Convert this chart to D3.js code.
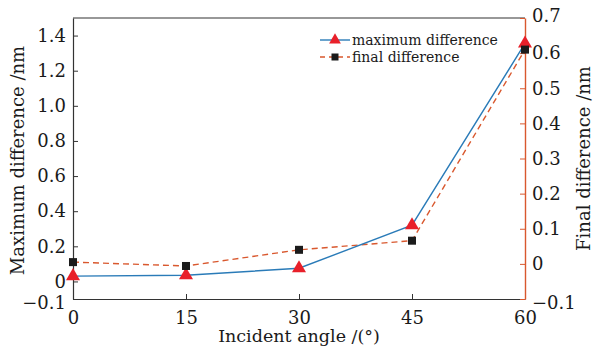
<!DOCTYPE html>
<html>
<head>
<meta charset="utf-8">
<script src="https://cdn.jsdelivr.net/npm/d3@7"></script>
<style>
  body { margin: 0; background: #fff; }
  svg { display: block; font-family: "DejaVu Serif", "Liberation Serif", serif; }
</style>
</head>
<body>
<svg id="chart"></svg>
<script>
// data
var angles = [0, 15, 30, 45, 60];
var maxDiff = [0.03, 0.035, 0.075, 0.32, 1.355];
var finalDiff = [0.005, -0.006, 0.04, 0.066, 0.61];
var leftTicks = [-0.1, 0, 0.2, 0.4, 0.6, 0.8, 1.0, 1.2, 1.4];
var rightTicks = [-0.1, 0, 0.1, 0.2, 0.3, 0.4, 0.5, 0.6, 0.7];
var xTicks = [0, 15, 30, 45, 60];

var W = 594, H = 346;
var margin = {top: 18, right: 69, bottom: 47, left: 73};
var width = W - margin.left - margin.right,
    height = H - margin.top - margin.bottom;

var blue = "#2a7bb8", orange = "#d9582e", red = "#e8202a", axisCol = "#333", txt = "#1a1a1a";

var svg = d3.select("#chart").attr("width", W).attr("height", H);
var g = svg.append("g").attr("transform", "translate(" + margin.left + "," + margin.top + ")");

var x = d3.scaleLinear().domain([0, 60]).range([0, width]);
var yL = d3.scaleLinear().domain([-0.1, 1.5]).range([height, 0]);
var yR = d3.scaleLinear().domain([-0.1, 0.7]).range([height, 0]);

// top border
g.append("line").attr("x1", 0).attr("x2", width).attr("y1", 0).attr("y2", 0)
  .attr("stroke", axisCol).attr("stroke-width", 1.2);

function fmtL(d) { return d === 0 ? "0" : (d === -0.1 ? "\u22120.1" : d.toFixed(1)); }

var xa = g.append("g").attr("transform", "translate(0," + height + ")")
  .call(d3.axisBottom(x).tickValues(xTicks).tickSizeInner(-5).tickSizeOuter(0).tickPadding(12));
var la = g.append("g")
  .call(d3.axisLeft(yL).tickValues(leftTicks).tickFormat(fmtL).tickSizeInner(-5).tickSizeOuter(0).tickPadding(7));
var ra = g.append("g").attr("transform", "translate(" + width + ",0)")
  .call(d3.axisRight(yR).tickValues(rightTicks).tickFormat(fmtL).tickSizeInner(-5).tickSizeOuter(0).tickPadding(7));

[xa, la].forEach(function(a) {
  a.select(".domain").attr("stroke", axisCol).attr("stroke-width", 1.2);
  a.selectAll(".tick line").attr("stroke", axisCol);
});
ra.select(".domain").attr("stroke", orange).attr("stroke-width", 1.4);
ra.selectAll(".tick line").attr("stroke", orange);
g.selectAll(".tick text").attr("font-size", 18).attr("fill", txt)
  .attr("font-family", "DejaVu Serif, serif");
// drop the lowest left/right label a touch like the original
la.selectAll(".tick text").filter(function(d) { return d === -0.1; }).attr("dy", "0.55em");
ra.selectAll(".tick text").filter(function(d) { return d === -0.1; }).attr("dy", "0.5em");
ra.selectAll(".tick text").filter(function(d) { return d === 0.7; }).attr("dy", "0.2em");

// lines
var ptsMax = angles.map(function(a, i) { return [a, maxDiff[i]]; });
var ptsFin = angles.map(function(a, i) { return [a, finalDiff[i]]; });

g.append("path").datum(ptsFin)
  .attr("fill", "none").attr("stroke", orange).attr("stroke-width", 1.4).attr("stroke-dasharray", "6,4")
  .attr("d", d3.line().x(function(d) { return x(d[0]); }).y(function(d) { return yR(d[1]); }));
g.append("path").datum(ptsMax)
  .attr("fill", "none").attr("stroke", blue).attr("stroke-width", 1.4)
  .attr("d", d3.line().x(function(d) { return x(d[0]); }).y(function(d) { return yL(d[1]); }));

var tri = d3.symbol().type(d3.symbolTriangle).size(85);
g.selectAll(".tri").data(ptsMax).enter().append("path")
  .attr("d", tri).attr("fill", red)
  .attr("transform", function(d) { return "translate(" + x(d[0]) + "," + yL(d[1]) + ")"; });
g.selectAll(".sq").data(ptsFin).enter().append("rect")
  .attr("x", function(d) { return x(d[0]) - 4; })
  .attr("y", function(d) { return yR(d[1]) - 4; })
  .attr("width", 8).attr("height", 8).attr("fill", "#1b1b1b");

// legend
var leg = g.append("g").attr("transform", "translate(247,22)");
leg.append("line").attr("x1", 0).attr("x2", 30).attr("y1", 0).attr("y2", 0).attr("stroke", blue).attr("stroke-width", 1.4);
leg.append("path").attr("d", d3.symbol().type(d3.symbolTriangle).size(60)).attr("fill", red).attr("transform", "translate(15,0)");
leg.append("text").attr("x", 32).attr("y", 5).attr("font-size", 14).attr("fill", txt).text("maximum difference");
leg.append("line").attr("x1", 0).attr("x2", 30).attr("y1", 17).attr("y2", 17).attr("stroke", orange).attr("stroke-width", 1.4).attr("stroke-dasharray", "5,4");
leg.append("rect").attr("x", 11.5).attr("y", 13.5).attr("width", 7).attr("height", 7).attr("fill", "#1b1b1b");
leg.append("text").attr("x", 32).attr("y", 22).attr("font-size", 14).attr("fill", txt).text("final difference");

// axis titles
svg.append("text").attr("x", margin.left + width / 2).attr("y", 342)
  .attr("text-anchor", "middle").attr("font-size", 17.5).attr("fill", txt).text("Incident angle /(\u00b0)");
svg.append("text").attr("transform", "translate(24," + (margin.top + height / 2 + 2) + ") rotate(-90)")
  .attr("text-anchor", "middle").attr("font-size", 18).attr("fill", txt).text("Maximum difference /nm");
svg.append("text").attr("transform", "translate(590," + (margin.top + height / 2) + ") rotate(-90)")
  .attr("text-anchor", "middle").attr("font-size", 18).attr("fill", txt).text("Final difference /nm");
</script>
</body>
</html>
